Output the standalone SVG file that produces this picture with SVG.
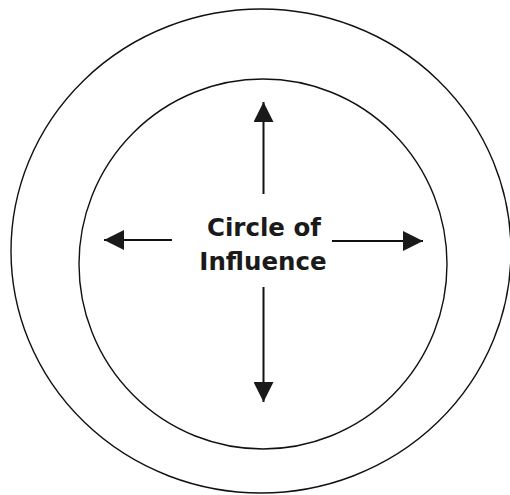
<svg xmlns="http://www.w3.org/2000/svg" width="510" height="495" viewBox="0 0 510 495">
  <style>
    .ring { fill: none; stroke: #111; stroke-width: 1.4; }
    .arrow { stroke: #111; stroke-width: 2; fill: none; marker-end: url(#head); }
    .label { font-family: "DejaVu Sans", Verdana, sans-serif; font-weight: bold; font-size: 24.5px; fill: #1a1a1a; text-anchor: middle; }
  </style>
  <defs>
    <marker id="head" markerUnits="userSpaceOnUse" markerWidth="20" markerHeight="20" viewBox="0 0 20 20" refX="20" refY="10" orient="auto">
      <path d="M0,0 L20,10 L0,20 Z" fill="#1a1a1a"/>
    </marker>
  </defs>
  <rect width="510" height="495" fill="#fff"/>
  <g id="outer-circle">
    <ellipse class="ring" cx="261" cy="251" rx="250" ry="242"/>
  </g>
  <g id="circle-of-influence">
    <ellipse class="ring" cx="263" cy="264" rx="184" ry="185"/>
    <text class="label" x="264" y="236">Circle of</text>
    <text class="label" x="263" y="270">Influence</text>
  </g>
  <g id="connectors">
    <line class="arrow" x1="263.5" y1="194" x2="263.5" y2="102"/>
    <line class="arrow" x1="263.5" y1="287" x2="263.5" y2="402"/>
    <line class="arrow" x1="172" y1="240" x2="104" y2="240"/>
    <line class="arrow" x1="332" y1="241" x2="423" y2="241"/>
  </g>
</svg>
